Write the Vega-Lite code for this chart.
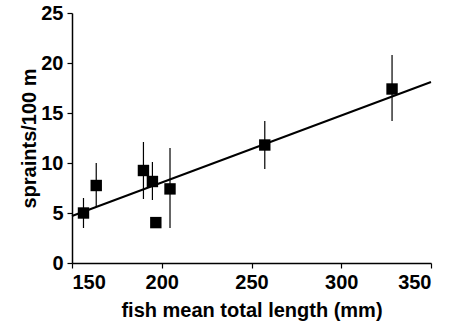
{
  "$schema": "https://vega.github.io/schema/vega-lite/v6.json",
  "autosize": {"type": "none"},
  "width": 359,
  "height": 250,
  "padding": {"left": 72, "top": 13, "right": 22, "bottom": 71},
  "background": "white",
  "config": {
    "view": {"stroke": null},
    "font": "Liberation Sans",
    "axis": {
      "domainColor": "black",
      "domainWidth": 1.5,
      "tickColor": "black",
      "tickWidth": 1.2,
      "tickSize": 5,
      "grid": false,
      "labelFont": "Liberation Sans",
      "labelFontWeight": "bold",
      "labelFontSize": 20,
      "labelColor": "black",
      "titleFont": "Liberation Sans",
      "titleFontWeight": "bold",
      "titleFontSize": 20,
      "titleColor": "black"
    }
  },
  "datasets": {
    "pts": [
      {"len": 156.4, "sp": 5.0, "lo": 3.5, "hi": 6.5},
      {"len": 163.5, "sp": 7.75, "lo": 5.6, "hi": 10.0},
      {"len": 189.8, "sp": 9.25, "lo": 6.4, "hi": 12.1},
      {"len": 194.8, "sp": 8.15, "lo": 6.3, "hi": 10.1},
      {"len": 196.7, "sp": 4.04, "lo": 3.9, "hi": 4.2},
      {"len": 204.6, "sp": 7.41, "lo": 3.5, "hi": 11.5},
      {"len": 257.4, "sp": 11.8, "lo": 9.4, "hi": 14.2},
      {"len": 328.3, "sp": 17.4, "lo": 14.2, "hi": 20.8}
    ],
    "fit": [
      {"len": 150, "sp": 4.7},
      {"len": 350, "sp": 18.1}
    ]
  },
  "layer": [
    {
      "data": {"name": "pts"},
      "mark": {"type": "rule", "color": "black", "strokeWidth": 1.2},
      "encoding": {
        "x": {"field": "len", "type": "quantitative", "scale": {"domain": [150, 350], "nice": false, "zero": false},
              "axis": {"values": [150, 200, 250, 300, 350], "title": "fish mean total length (mm)", "labelPadding": 4, "titlePadding": 8}},
        "y": {"field": "lo", "type": "quantitative", "scale": {"domain": [0, 25], "nice": false},
              "axis": {"values": [0, 5, 10, 15, 20, 25], "title": "spraints/100 m", "labelPadding": 4, "titlePadding": 1}},
        "y2": {"field": "hi"}
      }
    },
    {
      "data": {"name": "fit"},
      "mark": {"type": "line", "color": "black", "strokeWidth": 2},
      "encoding": {
        "x": {"field": "len", "type": "quantitative"},
        "y": {"field": "sp", "type": "quantitative"}
      }
    },
    {
      "data": {"name": "pts"},
      "mark": {"type": "point", "shape": "square", "filled": true, "color": "black", "opacity": 1, "size": 130},
      "encoding": {
        "x": {"field": "len", "type": "quantitative"},
        "y": {"field": "sp", "type": "quantitative"}
      }
    }
  ]
}
